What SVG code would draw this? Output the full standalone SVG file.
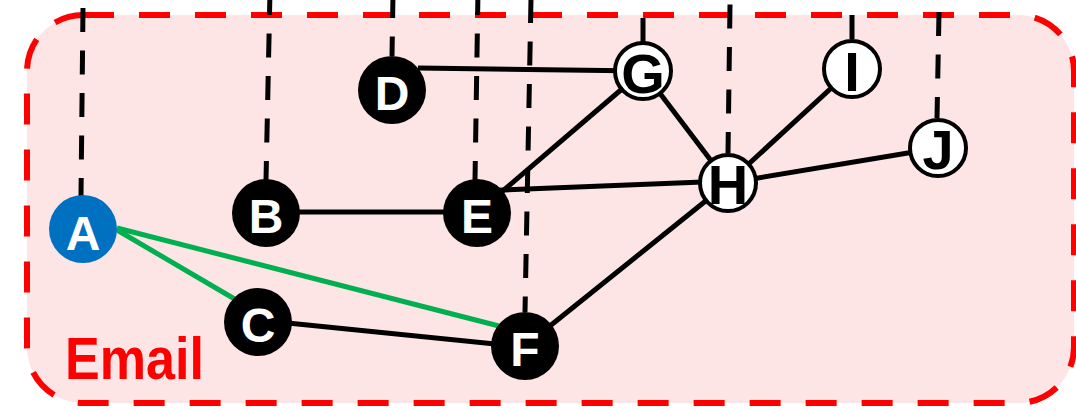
<svg xmlns="http://www.w3.org/2000/svg" width="1076" height="411" viewBox="0 0 1076 411">
  <style>
    .zone { fill: #fde4e5; stroke: #ff0000; stroke-width: 6; stroke-dasharray: 31 25; }
    .zone-label { fill: #ff0000; font-family: "Liberation Sans", Arial, sans-serif; font-weight: bold; font-size: 60px; }
    .link { stroke: #000; stroke-width: 5; stroke-linecap: butt; fill: none; }
    .drop { stroke: #000; stroke-width: 5; stroke-dasharray: 24 18.5; fill: none; }
    .hit { stroke: #00b050; stroke-width: 5; fill: none; }
    .dark circle { fill: #000; }
    .light circle { fill: #fff; stroke: #000; stroke-width: 4; }
    .source circle { fill: #0070c0; }
    .dark text, .source text { fill: #fff; font-family: "Liberation Sans", Arial, sans-serif; font-weight: bold; font-size: 48px; text-anchor: middle; }
    .light text { fill: #000; font-family: "Liberation Sans", Arial, sans-serif; font-weight: bold; font-size: 56px; text-anchor: middle; }
  </style>

  <!-- channel region -->
  <g id="email-zone">
    <rect class="zone" x="27" y="15" width="1047" height="388" rx="56" ry="56"/>
    <text class="zone-label" x="65" y="379" textLength="139" lengthAdjust="spacingAndGlyphs">Email</text>
  </g>

  <!-- connectors -->
  <g id="connectors">
    <!-- vertical dashed drops from above -->
    <line class="drop" x1="83" y1="8" x2="81" y2="196"/>
    <line class="drop" x1="270" y1="-9" x2="266" y2="180"/>
    <line class="drop" x1="393" y1="-6" x2="392" y2="56"/>
    <line class="drop" x1="478" y1="-9" x2="475" y2="180"/>
    <line class="drop" x1="531" y1="-1" x2="525" y2="312"/>
    <line class="drop" x1="643" y1="-24.5" x2="643" y2="42"/>
    <line class="drop" x1="730" y1="4.5" x2="728" y2="153"/>
    <line class="drop" x1="852" y1="15" x2="852" y2="39"/>
    <line class="drop" x1="939" y1="12" x2="937" y2="118"/>

    <!-- solid links -->
    <line class="link" x1="418" y1="68" x2="643" y2="71"/>
    <line class="link" x1="643" y1="71" x2="477" y2="213"/>
    <line class="link" x1="643" y1="71" x2="728" y2="183"/>
    <line class="link" x1="267" y1="212" x2="477" y2="212"/>
    <line class="link" x1="477" y1="191" x2="728" y2="181"/>
    <line class="link" x1="728" y1="183" x2="852" y2="69"/>
    <line class="link" x1="728" y1="183" x2="938" y2="148"/>
    <line class="link" x1="728" y1="183" x2="525" y2="346"/>
    <line class="link" x1="258" y1="320" x2="525" y2="347"/>

    <!-- highlighted links from A -->
    <line class="hit" x1="117" y1="230" x2="238" y2="301"/>
    <line class="hit" x1="117" y1="228" x2="499" y2="326"/>
  </g>

  <!-- nodes -->
  <g id="node-A" class="source"><circle cx="83" cy="229" r="34"/><text x="83" y="250">A</text></g>
  <g id="node-B" class="dark"><circle cx="266" cy="213" r="34"/><text x="266" y="233">B</text></g>
  <g id="node-C" class="dark"><circle cx="258" cy="322" r="34"/><text x="258" y="342">C</text></g>
  <g id="node-D" class="dark"><circle cx="392" cy="90" r="34"/><text x="392" y="110">D</text></g>
  <g id="node-E" class="dark"><circle cx="477" cy="213" r="34"/><text x="477" y="233">E</text></g>
  <g id="node-F" class="dark"><circle cx="525" cy="346" r="34"/><text x="525" y="366">F</text></g>
  <g id="node-G" class="light"><circle cx="643" cy="71" r="28"/><text x="643" y="93">G</text></g>
  <g id="node-H" class="light"><circle cx="728" cy="183" r="28"/><text x="728" y="204">H</text></g>
  <g id="node-I" class="light"><circle cx="852" cy="69" r="28"/><text x="852" y="91">I</text></g>
  <g id="node-J" class="light"><circle cx="938" cy="148" r="28"/><text x="938" y="169">J</text></g>
</svg>
